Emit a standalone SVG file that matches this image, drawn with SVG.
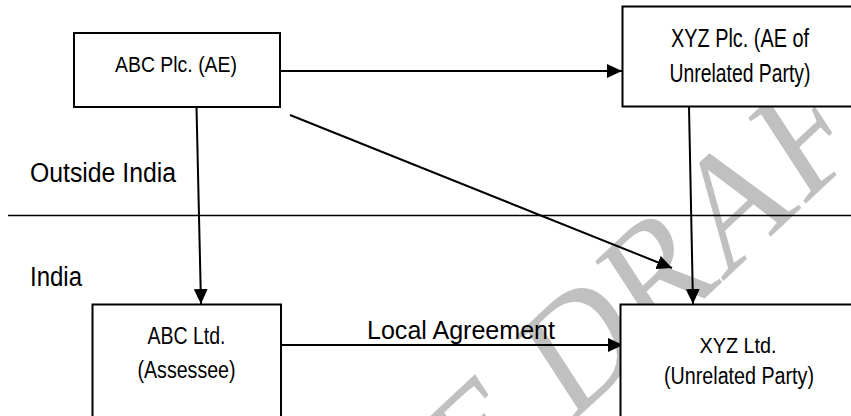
<svg xmlns="http://www.w3.org/2000/svg" width="851" height="416" viewBox="0 0 851 416">
<style>
.box{fill:#fff;stroke:#000;stroke-width:2}
.lbl{font-family:"Liberation Sans",Arial,sans-serif;fill:#000;text-anchor:middle}
.side{font-family:"Liberation Sans",Arial,sans-serif;fill:#000}
.conn{stroke:#000;stroke-width:2;fill:none}
.wm{font-family:"Liberation Serif","Times New Roman",serif;fill:#c0c0c0}
</style>
<defs>
<marker id="ah" markerUnits="userSpaceOnUse" markerWidth="15" markerHeight="14" refX="15" refY="7" orient="auto">
<path d="M0,0 L15,7 L0,14 z" fill="#000"/>
</marker>
</defs>
<rect width="851" height="416" fill="#fff"/>
<g id="watermark" transform="scale(1 1.2)">
<text class="wm" x="474" y="429" font-size="140" transform="rotate(-38 474 429)">E DRAFT</text>
</g>
<g id="regions">
<line x1="8" y1="215.5" x2="851" y2="215.5" stroke="#000" stroke-width="1.5"/>
<text class="side" x="30" y="182" font-size="27" textLength="146" lengthAdjust="spacingAndGlyphs">Outside India</text>
<text class="side" x="30" y="286" font-size="27" textLength="52" lengthAdjust="spacingAndGlyphs">India</text>
</g>
<g id="connectors">
<line class="conn" x1="280" y1="71" x2="622" y2="71" marker-end="url(#ah)"/>
<line class="conn" x1="196.5" y1="107" x2="201" y2="304" marker-end="url(#ah)"/>
<line class="conn" x1="689" y1="107" x2="693" y2="304" marker-end="url(#ah)"/>
<line class="conn" x1="290" y1="115" x2="672" y2="268" marker-end="url(#ah)"/>
<line class="conn" x1="281" y1="345" x2="623" y2="345" marker-end="url(#ah)"/>
<text class="lbl" x="461" y="339" font-size="26" textLength="188" lengthAdjust="spacingAndGlyphs">Local Agreement</text>
</g>
<g id="abc-plc">
<rect class="box" x="74" y="33" width="206" height="74"/>
<text class="lbl" x="176" y="72" font-size="22" textLength="122" lengthAdjust="spacingAndGlyphs">ABC Plc. (AE)</text>
</g>
<g id="xyz-plc">
<rect class="box" x="622.5" y="6.5" width="240" height="100"/>
<text class="lbl" x="740" y="47" font-size="25" textLength="138" lengthAdjust="spacingAndGlyphs">XYZ Plc. (AE of</text>
<text class="lbl" x="740" y="82" font-size="25" textLength="141" lengthAdjust="spacingAndGlyphs">Unrelated Party)</text>
</g>
<g id="abc-ltd">
<rect class="box" x="92.5" y="304.5" width="188.5" height="130"/>
<text class="lbl" x="186.5" y="344" font-size="23" textLength="78" lengthAdjust="spacingAndGlyphs">ABC Ltd.</text>
<text class="lbl" x="186.5" y="378" font-size="23" textLength="98" lengthAdjust="spacingAndGlyphs">(Assessee)</text>
</g>
<g id="xyz-ltd">
<rect class="box" x="620.5" y="304.5" width="240" height="130"/>
<text class="lbl" x="738" y="353" font-size="22" textLength="77" lengthAdjust="spacingAndGlyphs">XYZ Ltd.</text>
<text class="lbl" x="739" y="384" font-size="23" textLength="150" lengthAdjust="spacingAndGlyphs">(Unrelated Party)</text>
</g>
</svg>
